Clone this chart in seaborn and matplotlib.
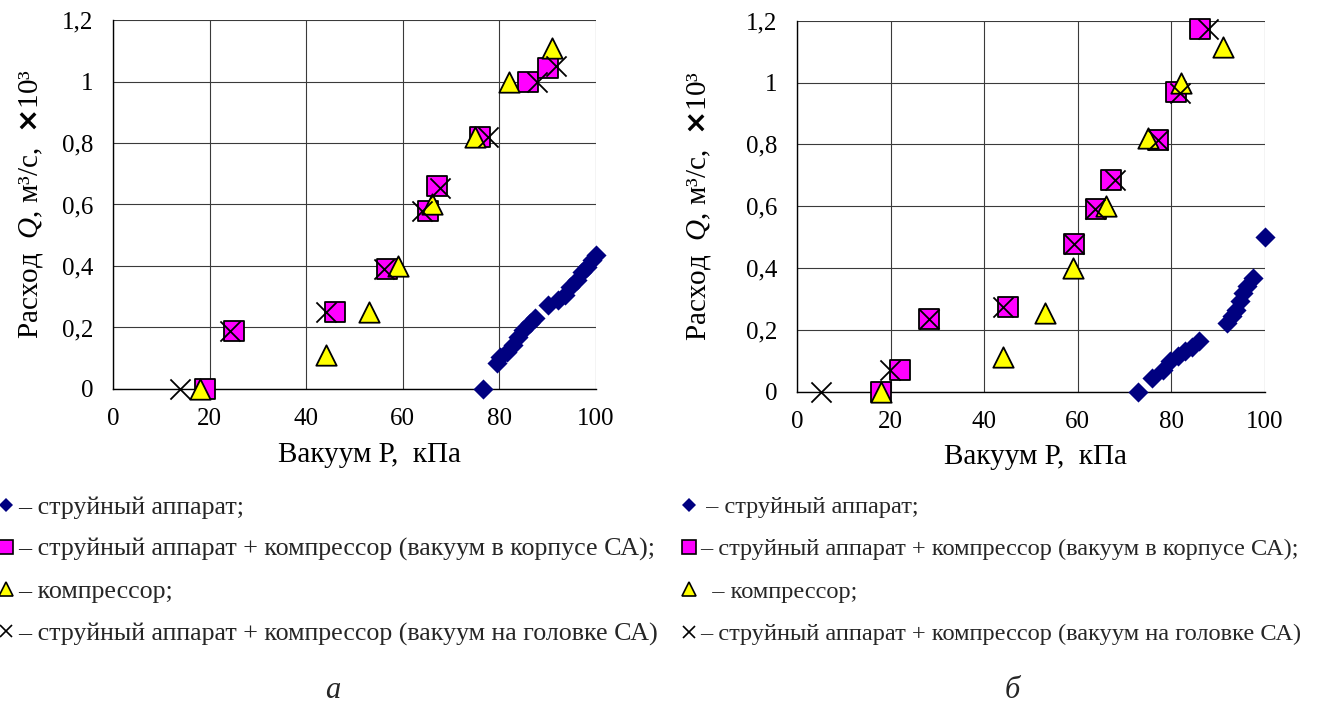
import seaborn as sns
import matplotlib.pyplot as plt
from matplotlib.lines import Line2D

# ---- panel "а" ----
a_jet_p = [76.5, 79.4, 80.1, 81.5, 82.9, 83.9, 84.9, 86.3, 87.4, 90.1, 92.2, 93.6, 94.6, 96.0, 97.0, 98.1, 99.1, 100.0]
a_jet_q = [0.0, 0.083, 0.105, 0.121, 0.143, 0.170, 0.192, 0.214, 0.230, 0.273, 0.289, 0.306, 0.333, 0.354, 0.382, 0.398, 0.420, 0.436]
a_body_p = [19.0, 25.0, 46.0, 56.8, 65.1, 67.1, 76.0, 86.0, 90.0]
a_body_q = [0.0, 0.19, 0.25, 0.39, 0.58, 0.66, 0.82, 1.00, 1.045]
a_comp_p = [18.0, 44.0, 52.9, 58.9, 66.0, 74.9, 81.9, 90.9]
a_comp_q = [0.0, 0.11, 0.25, 0.40, 0.60, 0.82, 1.00, 1.11]
a_head_p = [13.8, 24.2, 44.0, 56.1, 64.0, 67.7, 77.6, 87.7, 91.8]
a_head_q = [0.0, 0.19, 0.25, 0.39, 0.58, 0.655, 0.82, 1.00, 1.05]

# ---- panel "б" ----
b_jet_p = [72.8, 75.8, 78.3, 79.7, 81.5, 82.9, 84.3, 85.8, 91.8, 92.9, 93.9, 94.7, 95.4, 96.1, 97.5, 100.0]
b_jet_q = [0.0, 0.045, 0.072, 0.099, 0.115, 0.131, 0.147, 0.164, 0.223, 0.244, 0.266, 0.293, 0.320, 0.341, 0.368, 0.50]
b_body_p = [18.0, 22.1, 28.1, 45.0, 59.1, 63.9, 67.1, 77.1, 81.0, 86.0]
b_body_q = [0.0, 0.072, 0.237, 0.274, 0.478, 0.591, 0.686, 0.815, 0.968, 1.172]
b_comp_p = [18.0, 44.0, 53.0, 58.9, 66.0, 74.9, 82.0, 91.0]
b_comp_q = [0.0, 0.113, 0.255, 0.40, 0.60, 0.82, 1.00, 1.114]
b_head_p = [5.1, 19.9, 28.1, 44.1, 59.1, 63.7, 68.0, 77.1, 81.9, 87.9]
b_head_q = [0.0, 0.072, 0.237, 0.274, 0.478, 0.591, 0.686, 0.815, 0.966, 1.172]

x_ticks = [0, 20, 40, 60, 80, 100]
y_ticks = [0, 0.2, 0.4, 0.6, 0.8, 1.0, 1.2]
y_tick_labels = ['0', '0,2', '0,4', '0,6', '0,8', '1', '1,2']

legend_labels = ['– струйный аппарат;',
                 '– струйный аппарат + компрессор (вакуум в корпусе СА);',
                 '– компрессор;',
                 '– струйный аппарат + компрессор (вакуум на головке СА)']
legend_labels_b = [' – струйный аппарат;',
                   '– струйный аппарат + компрессор (вакуум в корпусе СА);',
                   '  – компрессор;',
                   '– струйный аппарат + компрессор (вакуум на головке СА)']

sns.set_theme(style='white')
plt.rcParams['font.family'] = ['Liberation Serif', 'DejaVu Serif']
plt.rcParams['mathtext.fontset'] = 'custom'
plt.rcParams['mathtext.rm'] = 'Liberation Serif'
plt.rcParams['mathtext.it'] = 'Liberation Serif:italic'
plt.rcParams['mathtext.bf'] = 'DejaVu Sans:bold'

NAVY = '#000080'
MAGENTA = '#ff00ff'
YELLOW = '#ffff00'

fig = plt.figure(figsize=(13.22, 7.02), dpi=100)
ax_a = fig.add_axes([0.0855, 0.4459, 0.3654, 0.5256])
ax_b = fig.add_axes([0.6029, 0.4416, 0.3540, 0.5290])


def draw_panel(ax, jet, body, comp, head):
    common = dict(ax=ax, clip_on=False, legend=False)
    sns.scatterplot(x=jet[0], y=jet[1], marker='D', color=NAVY, s=105,
                    linewidth=0, zorder=3, **common)
    sns.scatterplot(x=body[0], y=body[1], marker='s', color=MAGENTA, s=195,
                    edgecolor='black', linewidth=1.3, zorder=4, **common)
    sns.scatterplot(x=comp[0], y=comp[1], marker='^', color=YELLOW, s=215,
                    edgecolor='black', linewidth=1.3, zorder=5, **common)
    sns.scatterplot(x=head[0], y=head[1], marker='x', color='black', s=210,
                    linewidth=1.3, zorder=6, **common)

    ax.set_xlim(0, 100)
    ax.set_ylim(0, 1.2)
    ax.set_xticks(x_ticks)
    ax.set_yticks(y_ticks)
    ax.set_yticklabels(y_tick_labels)
    ax.grid(True, color='#3a3a3a', linewidth=0.8)
    ax.set_axisbelow(True)
    for side in ['top', 'right']:
        ax.spines[side].set_visible(False)
    for side in ['left', 'bottom']:
        ax.spines[side].set_color('black')
        ax.spines[side].set_linewidth(1.0)
    ax.tick_params(axis='both', direction='out', length=5, width=0.8,
                   color='black', labelsize=18, labelcolor='black')
    ax.tick_params(axis='y', pad=9)
    ax.tick_params(axis='x', pad=9)
    ax.set_xlabel('Вакуум Р,  кПа', fontsize=21, color='black')
    ax.set_ylabel(r'Расход  $Q$, м³/с,  $\mathbf{\times}$10³', fontsize=21, color='black')


draw_panel(ax_a, (a_jet_p, a_jet_q), (a_body_p, a_body_q),
           (a_comp_p, a_comp_q), (a_head_p, a_head_q))
draw_panel(ax_b, (b_jet_p, b_jet_q), (b_body_p, b_body_q),
           (b_comp_p, b_comp_q), (b_head_p, b_head_q))

ax_a.xaxis.set_label_coords(0.53, -0.145)
ax_b.xaxis.set_label_coords(0.51, -0.14)
ax_a.yaxis.set_label_coords(-0.141, 0.5)
ax_b.yaxis.set_label_coords(-0.18, 0.5)

handles = [
    Line2D([], [], linestyle='none', marker='D', markersize=7, color=NAVY, markeredgewidth=0),
    Line2D([], [], linestyle='none', marker='s', markersize=10, markerfacecolor=MAGENTA,
           markeredgecolor='black', markeredgewidth=1.2),
    Line2D([], [], linestyle='none', marker='^', markersize=10, markerfacecolor=YELLOW,
           markeredgecolor='black', markeredgewidth=1.2),
    Line2D([], [], linestyle='none', marker='x', markersize=9, color='black', markeredgewidth=1.2),
]

for x0, labels, fs, sp in [(0.0, legend_labels, 18.7, 0.72), (0.5166, legend_labels_b, 17.6, 0.83)]:
    fig.legend(handles, labels, loc='upper left', bbox_to_anchor=(x0, 0.2935),
               frameon=False, fontsize=fs, handlelength=0.5, handletextpad=0.2,
               labelspacing=sp, borderpad=0, borderaxespad=0)

fig.text(333 / 1322, 1 - 690 / 702, 'а', fontsize=22, style='italic', ha='center', va='center')
fig.text(1012 / 1322, 1 - 690 / 702, 'б', fontsize=22, style='italic', ha='center', va='center')

fig.savefig('out.png', dpi=100, facecolor='white')
